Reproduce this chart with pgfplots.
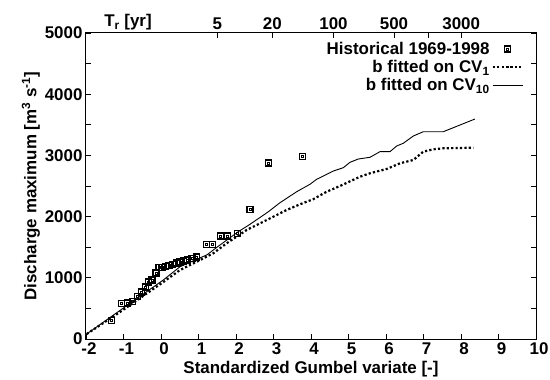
\documentclass[border=0pt]{standalone}
\usepackage{pgfplots}
\usepackage{pgfplotstable}
\pgfplotsset{compat=1.18}
\usepackage{fontspec}
\setmainfont{Liberation Sans}
\pgfdeclareplotmark{boxdot}{%
  \pgfsetlinewidth{1.2bp}%
  \pgfpathrectangle{\pgfpoint{-\pgfplotmarksize}{-\pgfplotmarksize}}{\pgfpoint{2\pgfplotmarksize}{2\pgfplotmarksize}}%
  \pgfusepathqstroke
  \pgfsetlinewidth{0.8bp}%
  \pgfpathrectangle{\pgfpoint{-0.35\pgfplotmarksize}{-0.35\pgfplotmarksize}}{\pgfpoint{0.7\pgfplotmarksize}{0.7\pgfplotmarksize}}%
  \pgfusepathqstroke
}
\pgfplotstableread{
x y
-1.315 299
-1.053 575
-0.893 588
-0.760 613
-0.632 691
-0.520 768
-0.413 850
-0.333 931
-0.240 964
-0.133 1078
-0.053 1168
0.027 1172
0.120 1181
0.213 1201
0.307 1217
0.413 1242
0.507 1258
0.605 1275
0.707 1291
0.827 1312
0.941 1340
1.219 1547
1.379 1547
1.581 1683
1.779 1683
2.035 1721
2.373 2119
2.861 2876
3.768 2985
}\hist
\pgfplotstableread{
x y
-1.981 82
-1.093 467
0.061 964
0.507 1181
0.952 1302
1.219 1373
1.573 1536
2.061 1753
2.373 1874
2.853 2075
3.173 2227
3.619 2407
3.973 2528
4.152 2610
4.328 2663
4.595 2745
4.861 2799
5.040 2887
5.261 2941
5.573 2969
5.840 3061
6.107 3061
6.285 3154
6.461 3198
6.728 3317
6.995 3387
7.528 3387
8.373 3595
}\cvten
\pgfplotstableread{
x y
-1.981 82
-1.093 441
0.061 931
0.507 1127
0.952 1263
1.395 1400
1.752 1564
2.285 1781
2.819 1944
3.352 2108
3.707 2201
4.061 2285
4.419 2407
4.773 2500
5.307 2652
5.573 2708
6.019 2778
6.373 2871
6.728 2925
6.995 3061
7.261 3100
7.528 3116
8.328 3126
}\cvone
\begin{document}
\begin{tikzpicture}[font=\fontsize{17}{20}\selectfont\bfseries]
\useasboundingbox (-86bp,-41bp) rectangle (464bp,339bp);
\begin{axis}[
  scale only axis, width=450bp, height=306bp,
  xmin=-2, xmax=10, ymin=0, ymax=5000,
  xtick={-2,-1,...,10}, ytick={0,1000,...,5000},
  minor ytick={500,1500,...,4500},
  xtick pos=left, ytick pos=both,
  tick align=inside,
  major tick length=5bp, minor tick length=5bp,
  every tick/.style={black, line width=0.9bp},
  axis line style={line width=1bp},
  /pgf/number format/assume math mode=true,
  /pgf/number format/1000 sep={},
  tick label style={font=\fontsize{17}{20}\selectfont\bfseries},
  xticklabel style={xshift=3bp},
  label style={font=\fontsize{17}{20}\selectfont\bfseries},
  xlabel={Standardized Gumbel variate [-]},
  ylabel={Discharge maximum [m\textsuperscript{3} s\textsuperscript{-1}]},
  ylabel style={yshift=-2bp},
  legend style={at={(rel axis cs:0.98,0.984)}, anchor=north east, draw=none, fill=none,
     font=\fontsize{17}{20}\selectfont\bfseries, row sep=0.5bp},
  legend cell align=right, legend plot pos=right,
  legend image code/.code={\draw[mark repeat=2,mark phase=2,#1] plot coordinates {(0bp,0bp) (15bp,0bp) (30bp,0bp)};},
]
\addplot[only marks, mark=boxdot, mark size=3bp, black] table {\hist};
\addlegendentry{Historical 1969-1998}
\addplot[black, line width=2.2bp, dash pattern=on 2.2bp off 2.2bp] table {\cvone};
\addlegendentry{b fitted on CV\textsubscript{1}}
\addplot[black, line width=0.9bp] table {\cvten};
\addlegendentry{b fitted on CV\textsubscript{10}}
\end{axis}
\begin{axis}[
  scale only axis, width=450bp, height=306bp,
  xmin=-2, xmax=10, ymin=0, ymax=5000,
  clip=false,
  axis x line*=top, axis y line=none,
  xtick={1.4999,2.9702,4.6001,6.2136,7.13,8.0061},
  xticklabels={5,20,100,500,,3000},
  tick align=inside, major tick length=5bp,
  every tick/.style={black, line width=0.9bp},
  axis line style={line width=1bp, -},
  /pgf/number format/assume math mode=true,
  tick label style={font=\fontsize{17}{20}\selectfont\bfseries},
]
\node[font=\fontsize{17}{20}\selectfont\bfseries, anchor=base] at (axis cs:-0.88,5000) [yshift=6bp] {T\textsubscript{r} [yr]};
\end{axis}
\end{tikzpicture}
\end{document}
